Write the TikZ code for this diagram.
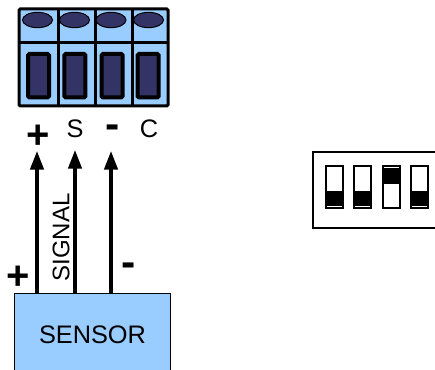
\documentclass[tikz,border=0pt]{standalone}
\usepackage{fontspec}
\setmainfont{Liberation Sans}
\usetikzlibrary{arrows.meta,shapes.geometric}
\definecolor{lightblue}{HTML}{99CCFF}
\definecolor{darknavy}{HTML}{333366}
\tikzset{
  px/.style={x=0.75pt,y=-0.75pt},
  housing/.style={draw=black,line width=2.25pt,fill=lightblue,rounded corners=1pt},
  divider/.style={draw=black,line width=2.25pt},
  screw/.style={draw=black,line width=0.75pt,fill=darknavy},
  slot/.style={draw=black,line width=3pt,fill=darknavy,rounded corners=1pt},
  wire/.style={draw=black,line width=2.6pt,-{Triangle[length=14pt,width=10pt]}},
  lbl/.style={inner sep=0pt,font=\fontsize{19}{21}\selectfont},
  bigplus/.style={inner sep=0pt,font=\bfseries\fontsize{30}{32}\selectfont},
  bigminus/.style={inner sep=0pt,font=\bfseries\fontsize{32}{34}\selectfont},
  sensorbox/.style={draw=black,line width=0.75pt,fill=lightblue},
  dipbox/.style={draw=black,line width=1pt,fill=white},
  dipsw/.style={draw=black,line width=1pt,fill=white},
  dipon/.style={fill=black,draw=none},
}
\begin{document}
\begin{tikzpicture}[px]
\useasboundingbox (0,0) rectangle (435,370);
% terminal block
\draw[housing] (19,9) rectangle (168,106);
\draw[divider] (58,9) -- (58,106);
\draw[divider] (95,9) -- (95,106);
\draw[divider] (132,9) -- (132,106);
\draw[divider] (19,42.5) -- (168,42.5);
\foreach \n/\x in {a/37.5,b/74.5,c/111,d/148.5}{
  \node[screw,ellipse,minimum width=22.5pt,minimum height=11.5pt,inner sep=0pt] (screw\n) at (\x,20) {};
}
\foreach \x in {38.5,74.8,112,148.2}{
  \draw[slot] (\x-10.5,54) rectangle (\x+10.5,97.5);
}
% terminal labels
\node[bigplus] (plus) at (38,136.5) {+};
\node[lbl] (s) at (75,129) {S};
\node[bigminus] (minus) at (113,132) {-};
\node[lbl] (c) at (149,129) {C};
% sensor
\fill[lightblue] (14,293) rectangle (170,370);
\draw[sensorbox] (14,372) -- (14,293) -- (170,293) -- (170,372);
\node[lbl] (sensor) at (92.5,335) {SENSOR};
\coordinate (w1) at (37,293);
\coordinate (w2) at (75,293);
\coordinate (w3) at (111,293);
\coordinate (t1) at (37,151);
\coordinate (t2) at (75,150);
\coordinate (t3) at (111,151);
\draw[wire] (w1) -- (t1);
\draw[wire] (w2) -- (t2);
\draw[wire] (w3) -- (t3);
\node[lbl,rotate=90,font=\fontsize{18}{20}\selectfont] (signal) at (61,237.5) {SIGNAL};
\node[bigplus] (plusb) at (18,278) {+};
\node[bigminus] (minusb) at (129,270) {-};
% DIP switch
\draw[dipbox] (435,152) -- (313,152) -- (313,228) -- (435,228);
\foreach \x/\a/\b in {326/191/206,354/191/206,383/168/184,411/191/206}{
  \draw[dipsw] (\x,166) rectangle (\x+17,208);
  \fill[dipon] (\x,\a) rectangle (\x+17,\b);
}
\end{tikzpicture}
\end{document}
